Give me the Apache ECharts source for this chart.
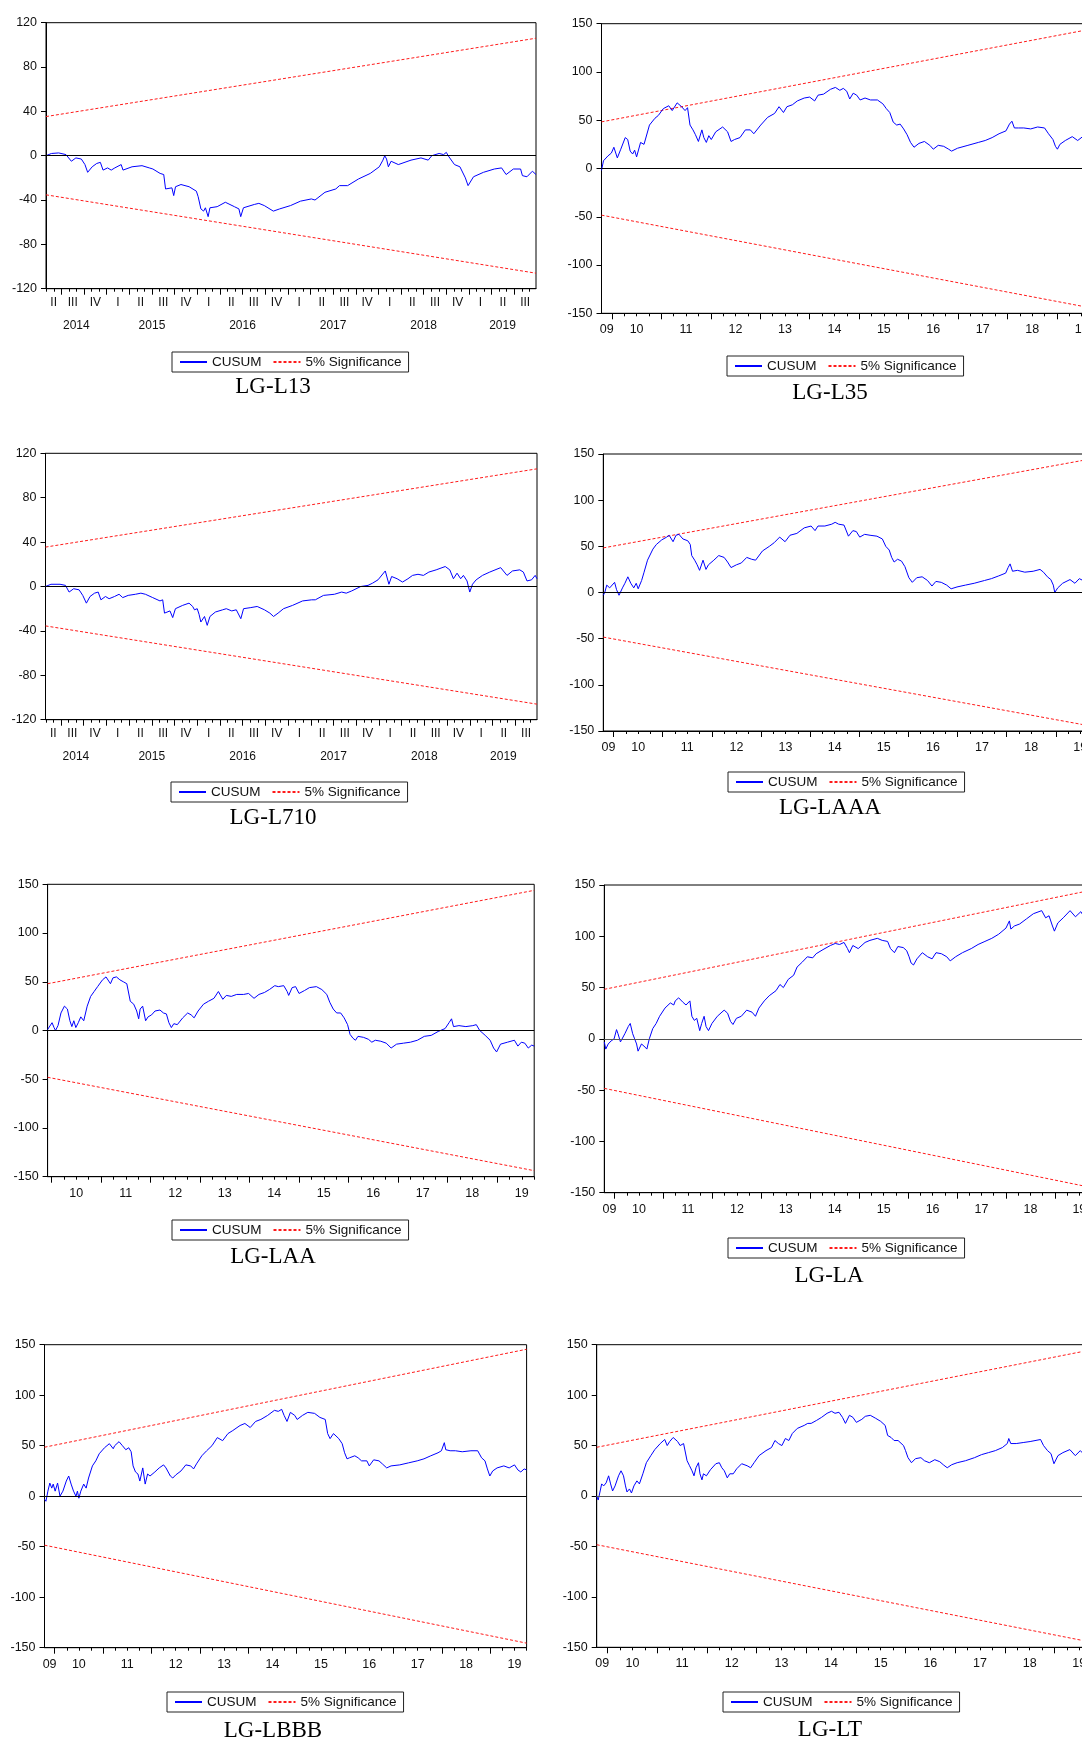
<!DOCTYPE html>
<html>
<head>
<meta charset="utf-8">
<script src="https://cdn.jsdelivr.net/npm/echarts@6/dist/echarts.min.js"></script>
<style>
html,body{margin:0;padding:0;background:#fff;overflow:hidden;width:1082px;height:1744px;position:relative}
.p{position:absolute}
</style>
</head>
<body>
<div id="c0" class="p"></div><div id="c1" class="p"></div>
<div id="c2" class="p"></div><div id="c3" class="p"></div>
<div id="c4" class="p"></div><div id="c5" class="p"></div>
<div id="c6" class="p"></div><div id="c7" class="p"></div>
<script>
// ---------------- DATA ----------------
// times are decimal years, values are CUSUM statistics
const L13_t = [2014.33,2014.39,2014.47,2014.55,2014.57,2014.61,2014.66,2014.72,2014.76,2014.79,2014.84,2014.89,2014.93,2014.96,2015.01,2015.05,2015.09,2015.16,2015.18,2015.28,2015.39,2015.47,2015.51,2015.59,2015.63,2015.65,2015.72,2015.74,2015.76,2015.82,2015.91,2015.99,2016.01,2016.04,2016.07,2016.09,2016.12,2016.14,2016.22,2016.31,2016.41,2016.46,2016.48,2016.51,2016.63,2016.68,2016.74,2016.84,2016.91,2017.03,2017.14,2017.26,2017.30,2017.41,2017.53,2017.57,2017.66,2017.78,2017.91,2018.01,2018.05,2018.07,2018.09,2018.11,2018.14,2018.22,2018.36,2018.47,2018.55,2018.59,2018.67,2018.72,2018.75,2018.77,2018.84,2018.90,2018.96,2018.99,2019.05,2019.16,2019.28,2019.36,2019.41,2019.49,2019.57,2019.59,2019.64,2019.70,2019.74];
const L13_v = [0,2,2.5,1,0,-5,-2,-3,-8,-15,-10,-7,-6,-13,-11,-13,-11,-8,-13,-10,-9,-11,-12,-16,-17,-30,-29,-36,-28,-26,-28,-32,-37,-48,-50,-47,-55,-47,-46,-42,-46,-48,-55,-47,-44,-43,-45,-50,-48,-45,-41,-39,-40,-33,-30,-27,-27,-21,-16,-10,-4,0,-3,-10,-5,-8,-4,-2,-4,0,2,1,3,0,-8,-10,-20,-27,-19,-15,-12,-11,-17,-12,-12,-18,-19,-14,-17];
const L13_sig = [35.3, 106];

const L35_t = [2009.79,2009.83,2009.92,2009.99,2010.04,2010.11,2010.18,2010.27,2010.32,2010.37,2010.42,2010.46,2010.50,2010.58,2010.65,2010.76,2010.87,2010.94,2011.04,2011.15,2011.22,2011.32,2011.41,2011.48,2011.53,2011.58,2011.64,2011.69,2011.75,2011.82,2011.86,2011.91,2011.96,2012.01,2012.10,2012.24,2012.34,2012.41,2012.48,2012.59,2012.70,2012.80,2012.87,2013.01,2013.15,2013.29,2013.38,2013.47,2013.54,2013.65,2013.75,2013.89,2014.00,2014.10,2014.17,2014.28,2014.42,2014.52,2014.61,2014.68,2014.75,2014.81,2014.88,2014.95,2015.02,2015.12,2015.23,2015.37,2015.48,2015.55,2015.62,2015.69,2015.76,2015.83,2015.90,2015.97,2016.04,2016.11,2016.21,2016.32,2016.43,2016.50,2016.60,2016.71,2016.81,2016.87,2016.99,2017.20,2017.41,2017.55,2017.69,2017.83,2017.97,2018.04,2018.09,2018.14,2018.22,2018.33,2018.47,2018.61,2018.75,2018.83,2018.92,2018.97,2019.01,2019.06,2019.17,2019.31,2019.42,2019.52,2019.58,2019.75];
const L35_v = [-2,8,13,16,22,11,20,32,30,18,15,19,12,27,25,45,52,55,62,65,60,68,64,60,63,45,40,35,28,40,32,27,34,30,38,43,38,28,30,32,40,40,36,45,53,57,64,58,64,66,70,73,74,70,76,77,82,84,81,83,80,72,78,76,71,73,71,71,67,62,58,48,45,46,41,35,27,22,26,28,24,20,24,23,20,18,21,24,27,29,32,36,39,46,49,42,42,42,41,43,42,36,30,23,20,25,29,33,29,33,32,33];
const L35_sig = [48.3, 145];

const L710_t = [2014.33,2014.39,2014.49,2014.55,2014.59,2014.64,2014.70,2014.74,2014.78,2014.82,2014.87,2014.91,2014.93,2014.94,2014.99,2015.03,2015.09,2015.14,2015.18,2015.24,2015.32,2015.38,2015.43,2015.51,2015.59,2015.62,2015.64,2015.70,2015.73,2015.76,2015.84,2015.91,2015.95,2015.97,2016.00,2016.02,2016.04,2016.08,2016.11,2016.14,2016.20,2016.28,2016.32,2016.38,2016.43,2016.48,2016.51,2016.59,2016.66,2016.74,2016.80,2016.84,2016.89,2016.95,2017.05,2017.16,2017.26,2017.30,2017.39,2017.51,2017.59,2017.64,2017.70,2017.80,2017.88,2017.93,2017.99,2018.07,2018.11,2018.14,2018.20,2018.26,2018.32,2018.37,2018.43,2018.49,2018.55,2018.63,2018.73,2018.78,2018.82,2018.86,2018.90,2018.93,2018.97,2019.00,2019.03,2019.07,2019.14,2019.22,2019.34,2019.36,2019.41,2019.47,2019.55,2019.59,2019.63,2019.68,2019.72,2019.74];
const L710_v = [0,2,2,1,-5,-2,-3,-8,-15,-9,-6,-5,-6,-12,-9,-11,-9,-7,-10,-8,-7,-6,-7,-10,-13,-12,-24,-22,-28,-20,-17,-15,-18,-21,-20,-25,-32,-27,-35,-27,-23,-21,-20,-22,-21,-29,-20,-19,-18,-21,-24,-27,-24,-20,-17,-13,-12,-12,-8,-7,-5,-6,-4,0,1,3,6,14,2,9,7,4,7,10,11,10,13,15,18,15,7,12,7,10,5,-5,2,6,10,13,17,16,10,14,15,13,5,6,10,7];
const L710_sig = [35.5, 106];

const LAAA_t = [2009.79,2009.82,2009.86,2009.92,2009.96,2010.02,2010.06,2010.11,2010.18,2010.23,2010.29,2010.35,2010.41,2010.46,2010.50,2010.57,2010.62,2010.69,2010.80,2010.87,2010.98,2011.08,2011.13,2011.21,2011.27,2011.33,2011.41,2011.51,2011.56,2011.59,2011.65,2011.70,2011.75,2011.82,2011.88,2011.93,2012.04,2012.14,2012.25,2012.32,2012.39,2012.50,2012.60,2012.71,2012.81,2012.89,2013.03,2013.17,2013.27,2013.38,2013.49,2013.59,2013.73,2013.88,2014.02,2014.10,2014.16,2014.30,2014.44,2014.51,2014.58,2014.69,2014.78,2014.87,2014.94,2015.01,2015.11,2015.22,2015.36,2015.47,2015.54,2015.61,2015.66,2015.71,2015.78,2015.86,2015.93,2016.01,2016.08,2016.17,2016.28,2016.39,2016.48,2016.56,2016.67,2016.78,2016.87,2016.99,2017.16,2017.34,2017.55,2017.69,2017.84,2017.98,2018.03,2018.07,2018.12,2018.22,2018.37,2018.54,2018.68,2018.75,2018.83,2018.90,2018.95,2018.98,2019.04,2019.14,2019.29,2019.39,2019.48,2019.59,2019.75];
const LAAA_v = [-3,0,8,5,6,11,3,-3,5,10,17,10,5,10,4,13,22,35,47,52,57,60,62,55,62,63,58,56,52,40,35,30,24,35,25,30,35,40,38,33,27,30,32,38,36,35,45,50,54,60,55,62,64,70,72,67,72,72,74,76,74,73,61,67,66,60,63,62,61,58,50,46,38,33,36,34,28,16,11,16,17,13,7,12,11,8,4,6,8,10,13,15,18,21,27,31,23,24,22,23,25,22,17,14,8,0,5,10,14,10,15,12,12];
const LAAA_sig = [48.3, 145];

const LAA_t = [2009.92,2009.96,2010.01,2010.05,2010.08,2010.13,2010.19,2010.26,2010.32,2010.37,2010.41,2010.45,2010.49,2010.54,2010.59,2010.65,2010.72,2010.79,2010.86,2010.93,2011.03,2011.10,2011.19,2011.24,2011.31,2011.38,2011.45,2011.52,2011.56,2011.59,2011.66,2011.72,2011.76,2011.79,2011.84,2011.90,2011.95,2012.02,2012.09,2012.19,2012.26,2012.32,2012.37,2012.42,2012.47,2012.54,2012.65,2012.75,2012.82,2012.88,2012.96,2013.07,2013.17,2013.28,2013.37,2013.46,2013.53,2013.63,2013.74,2013.88,2013.98,2014.09,2014.19,2014.30,2014.40,2014.51,2014.58,2014.69,2014.76,2014.79,2014.86,2014.93,2015.00,2015.11,2015.21,2015.35,2015.46,2015.56,2015.62,2015.69,2015.76,2015.84,2015.91,2015.98,2016.03,2016.09,2016.14,2016.19,2016.30,2016.40,2016.47,2016.54,2016.65,2016.76,2016.86,2016.97,2017.11,2017.25,2017.39,2017.53,2017.67,2017.81,2017.95,2018.03,2018.08,2018.12,2018.23,2018.37,2018.51,2018.58,2018.65,2018.76,2018.86,2018.93,2018.99,2019.07,2019.21,2019.35,2019.42,2019.49,2019.56,2019.63,2019.70,2019.75];
const LAA_v = [1,2,8,3,0,5,18,25,22,10,4,10,3,8,14,10,25,35,40,45,52,55,48,54,55,52,50,48,47,30,27,20,12,22,25,10,14,16,20,21,18,17,8,3,7,6,13,18,16,13,20,27,30,33,40,32,36,35,37,37,38,33,37,39,42,46,45,46,40,36,44,45,38,41,44,45,42,37,29,22,18,18,13,6,-4,-8,-10,-6,-7,-9,-12,-10,-11,-13,-18,-14,-13,-12,-10,-6,-5,-1,2,8,12,4,5,4,5,6,0,-5,-10,-18,-22,-14,-12,-10,-16,-12,-13,-18,-15,-16];
const LAA_sig = [48, 143.8];

const LA_t = [2009.79,2009.82,2009.87,2009.93,2009.99,2010.04,2010.07,2010.12,2010.16,2010.21,2010.28,2010.32,2010.37,2010.41,2010.45,2010.48,2010.55,2010.60,2010.66,2010.71,2010.78,2010.85,2010.92,2011.03,2011.14,2011.21,2011.24,2011.31,2011.39,2011.46,2011.54,2011.58,2011.63,2011.68,2011.74,2011.78,2011.83,2011.87,2011.92,2011.99,2012.10,2012.24,2012.31,2012.37,2012.42,2012.49,2012.59,2012.70,2012.81,2012.88,2012.95,2013.06,2013.16,2013.30,2013.38,2013.45,2013.55,2013.66,2013.73,2013.84,2013.94,2014.05,2014.12,2014.26,2014.41,2014.51,2014.60,2014.69,2014.76,2014.80,2014.87,2014.98,2015.12,2015.22,2015.37,2015.47,2015.58,2015.64,2015.72,2015.79,2015.90,2015.97,2016.02,2016.06,2016.11,2016.18,2016.29,2016.40,2016.49,2016.57,2016.68,2016.79,2016.86,2016.97,2017.11,2017.29,2017.43,2017.57,2017.71,2017.85,2018.00,2018.07,2018.10,2018.17,2018.28,2018.42,2018.56,2018.73,2018.81,2018.88,2018.95,2018.99,2019.06,2019.17,2019.31,2019.42,2019.53,2019.62,2019.75];
const LA_v = [-3,-10,-5,-2,0,9,5,-3,-4,5,12,15,5,0,-5,-12,-5,-7,-10,0,10,15,22,30,35,33,37,40,36,33,37,22,18,20,8,15,22,12,8,15,22,28,25,17,14,20,22,28,26,22,30,37,42,47,53,50,58,62,70,75,80,79,83,87,91,93,92,94,88,84,91,88,94,96,98,96,95,88,84,90,89,86,80,74,72,78,84,80,78,84,83,80,76,80,84,88,92,95,98,102,108,115,107,110,112,117,122,125,118,120,110,105,113,118,125,119,124,117,120];
const LA_sig = [48.3, 145];

const LBBB_t = [2009.79,2009.82,2009.86,2009.90,2009.94,2009.97,2010.01,2010.06,2010.11,2010.17,2010.24,2010.29,2010.34,2010.39,2010.44,2010.47,2010.50,2010.54,2010.60,2010.65,2010.70,2010.78,2010.85,2010.92,2011.03,2011.13,2011.21,2011.24,2011.33,2011.40,2011.47,2011.53,2011.58,2011.62,2011.67,2011.72,2011.76,2011.82,2011.87,2011.92,2011.97,2012.07,2012.16,2012.25,2012.30,2012.39,2012.44,2012.50,2012.61,2012.71,2012.81,2012.87,2012.93,2013.04,2013.14,2013.25,2013.36,2013.47,2013.58,2013.68,2013.83,2013.93,2014.04,2014.15,2014.26,2014.40,2014.54,2014.62,2014.69,2014.74,2014.80,2014.87,2014.96,2015.01,2015.12,2015.23,2015.37,2015.48,2015.59,2015.64,2015.69,2015.76,2015.87,2015.94,2015.99,2016.04,2016.09,2016.20,2016.27,2016.34,2016.45,2016.50,2016.59,2016.70,2016.77,2016.86,2016.95,2017.13,2017.31,2017.49,2017.63,2017.77,2017.92,2017.99,2018.05,2018.08,2018.17,2018.28,2018.42,2018.60,2018.74,2018.82,2018.89,2018.94,2018.99,2019.05,2019.14,2019.28,2019.39,2019.50,2019.57,2019.63,2019.70,2019.75];
const LBBB_v = [-3,-5,5,13,8,12,5,13,0,5,15,20,12,5,0,5,-2,5,12,8,18,30,35,42,48,52,47,50,54,50,46,48,44,30,24,22,15,28,12,22,20,24,28,31,28,20,18,21,25,31,30,27,32,40,45,50,58,55,62,65,70,72,68,74,76,80,85,84,86,80,74,83,80,76,80,83,82,78,76,62,57,62,57,52,43,37,38,40,38,35,35,30,36,35,32,28,30,31,33,35,37,40,43,45,53,46,45,45,44,45,45,38,35,27,20,25,28,30,28,31,26,24,27,26];
const LBBB_sig = [48.5, 145.5];

const LT_t = [2009.78,2009.81,2009.85,2009.88,2009.92,2009.97,2010.02,2010.06,2010.10,2010.15,2010.22,2010.27,2010.32,2010.36,2010.39,2010.44,2010.48,2010.53,2010.59,2010.64,2010.71,2010.78,2010.87,2010.95,2011.06,2011.15,2011.20,2011.25,2011.32,2011.41,2011.46,2011.53,2011.57,2011.60,2011.65,2011.70,2011.74,2011.78,2011.83,2011.86,2011.90,2011.93,2011.99,2012.07,2012.18,2012.25,2012.30,2012.35,2012.41,2012.46,2012.53,2012.60,2012.70,2012.81,2012.88,2012.95,2013.05,2013.19,2013.30,2013.37,2013.44,2013.51,2013.58,2013.65,2013.72,2013.82,2013.96,2014.03,2014.10,2014.21,2014.31,2014.42,2014.51,2014.58,2014.66,2014.73,2014.79,2014.87,2014.94,2015.01,2015.12,2015.19,2015.29,2015.40,2015.50,2015.59,2015.64,2015.71,2015.77,2015.85,2015.96,2016.00,2016.05,2016.12,2016.20,2016.31,2016.38,2016.48,2016.59,2016.69,2016.76,2016.84,2016.93,2017.04,2017.21,2017.39,2017.53,2017.67,2017.81,2017.95,2018.05,2018.08,2018.12,2018.23,2018.37,2018.51,2018.72,2018.78,2018.86,2018.93,2018.99,2019.07,2019.17,2019.31,2019.42,2019.52,2019.62,2019.75];
const LT_v = [0,-4,5,12,10,13,20,12,5,10,20,25,20,10,4,7,3,10,15,12,22,33,40,46,52,56,50,54,58,54,50,52,52,35,30,25,20,28,33,22,16,22,20,26,32,33,28,25,18,22,22,27,32,30,28,33,40,45,48,55,52,50,57,55,62,67,70,72,72,75,78,82,84,82,83,78,72,80,78,73,76,79,80,77,74,70,60,58,55,55,50,45,38,33,37,38,35,33,36,34,31,28,31,33,35,38,41,43,45,48,52,57,52,52,53,54,56,50,45,42,32,40,43,46,40,45,40,42];
const LT_sig = [48.3, 145];

const Y_TICKS_120 = [-120, 120, 40];   // min, max, step
const Y_TICKS_150 = [-150, 150, 50];
const QUARTER_NAMES = ['I','II','III','IV'];
const SERIES_NAMES = ['CUSUM', '5% Significance'];

// ---------------- LAYOUT (page pixels) ----------------
const PANELS = [
  {el:'c0', title:'LG-L13',  t:L13_t,  v:L13_v,  sig:L13_sig,  y:Y_TICKS_120, kind:'q', div:[0,0,545,430],     grid:[46,22.7,536,288.7],    legend:[172,352], tpos:[273,387], zero:'#000'},
  {el:'c1', title:'LG-L35',  t:L35_t,  v:L35_v,  sig:L35_sig,  y:Y_TICKS_150, kind:'y', div:[545,0,560,430],   grid:[601.5,23.7,1094,313.3], legend:[727,356], tpos:[830,393], zero:'#000'},
  {el:'c2', title:'LG-L710', t:L710_t, v:L710_v, sig:L710_sig, y:Y_TICKS_120, kind:'q', div:[0,430,545,430],   grid:[45.5,453.3,537,719.7],  legend:[171,782], tpos:[273,818], zero:'#000'},
  {el:'c3', title:'LG-LAAA', t:LAAA_t, v:LAAA_v, sig:LAAA_sig, y:Y_TICKS_150, kind:'y', div:[545,430,560,430], grid:[603.3,454,1092.6,731],  legend:[728,772], tpos:[830,808], zero:'#000'},
  {el:'c4', title:'LG-LAA',  t:LAA_t,  v:LAA_v,  sig:LAA_sig,  y:Y_TICKS_150, kind:'y', div:[0,860,545,460],   grid:[47.6,884.3,534.2,1176.7], legend:[172,1220], tpos:[273,1257], zero:'#000'},
  {el:'c5', title:'LG-LA',   t:LA_t,   v:LA_v,   sig:LA_sig,   y:Y_TICKS_150, kind:'y', div:[545,860,560,460], grid:[604.3,885,1091.6,1192.7], legend:[728,1238], tpos:[829,1276], zero:'#555'},
  {el:'c6', title:'LG-LBBB', t:LBBB_t, v:LBBB_v, sig:LBBB_sig, y:Y_TICKS_150, kind:'y', div:[0,1320,545,424],  grid:[44.5,1344.7,526.6,1647.7], legend:[167,1692], tpos:[273,1731], zero:'#000'},
  {el:'c7', title:'LG-LT',   t:LT_t,   v:LT_v,   sig:LT_sig,   y:Y_TICKS_150, kind:'y', div:[545,1320,560,424], grid:[596.7,1344.7,1091.7,1647.3], legend:[723,1692], tpos:[830,1730], zero:'#555'}
];

const SANS = '"Liberation Sans", Arial, Helvetica, sans-serif';
const SERIF = '"Liberation Serif", "Times New Roman", serif';

function lookupFormatter(pos, txt) {
  return function (val) {
    for (let i = 0; i < pos.length; i++) if (Math.abs(pos[i] - val) < 1e-4) return txt[i];
    return '';
  };
}

function baseX(t0, t1) {
  return {type:'value', min:t0, max:t1, gridIndex:0, position:'bottom', offset:0,
    splitLine:{show:false}, axisLine:{show:false, onZero:false},
    axisTick:{show:false}, axisLabel:{show:false}};
}

// EViews-like quarterly axis (months minor ticks, quarter ticks, quarter & year labels)
function quarterAxes(t0, t1) {
  const months = [], quarters = [], qPos = [], qTxt = [], yPos = [], yTxt = [];
  for (let y = Math.floor(t0); y <= Math.ceil(t1); y++) {
    for (let m = 0; m < 12; m++) {
      const v = y + m / 12;
      if (v > t0 + 1e-6 && v < t1 - 1e-6) (m % 3 === 0 ? quarters : months).push(v);
    }
    for (let q = 0; q < 4; q++) {
      const a = Math.max(y + q / 4, t0), b = Math.min(y + (q + 1) / 4, t1);
      if (b - a > 0.05) { qPos.push((a + b) / 2); qTxt.push(QUARTER_NAMES[q]); }
    }
    const a = Math.max(y, t0), b = Math.min(y + 1, t1);
    if (b - a > 0.1) { yPos.push((a + b) / 2); yTxt.push(String(y)); }
  }
  const lab = {fontFamily:SANS, fontSize:12, color:'#111'};
  return [
    Object.assign(baseX(t0, t1), {
      axisLine:{show:true, onZero:false, lineStyle:{color:'#000', width:1}},
      axisTick:{show:true, length:3, customValues:months, lineStyle:{color:'#000', width:1}},
      axisLabel:Object.assign({show:true, customValues:qPos, formatter:lookupFormatter(qPos, qTxt), margin:8}, lab)
    }),
    Object.assign(baseX(t0, t1), {
      axisTick:{show:true, length:6, customValues:quarters, lineStyle:{color:'#000', width:1}}
    }),
    Object.assign(baseX(t0, t1), {
      axisLabel:Object.assign({show:true, customValues:yPos, formatter:lookupFormatter(yPos, yTxt), margin:31}, lab)
    })
  ];
}

// yearly axis (quarter minor ticks, year ticks, 2-digit year labels)
function yearAxes(t0, t1) {
  const quarters = [], years = [], yPos = [], yTxt = [];
  for (let y = Math.floor(t0); y <= Math.ceil(t1); y++) {
    for (let q = 0; q < 4; q++) {
      const v = y + q / 4;
      if (v > t0 + 1e-6 && v <= t1 + 1e-6) (q === 0 ? years : quarters).push(v);
    }
    const a = Math.max(y, t0), b = Math.min(y + 1, t1);
    if (b - a > 0.15) {
      yPos.push(b - a > 0.7 ? y + 0.5 : (a + b) / 2);
      yTxt.push(String(y).slice(2));
    }
  }
  const lab = {fontFamily:SANS, fontSize:12.5, color:'#111'};
  return [
    Object.assign(baseX(t0, t1), {
      axisLine:{show:true, onZero:false, lineStyle:{color:'#000', width:1}},
      axisTick:{show:true, length:3, customValues:quarters, lineStyle:{color:'#000', width:1}},
      axisLabel:Object.assign({show:true, customValues:yPos, formatter:lookupFormatter(yPos, yTxt), margin:10}, lab)
    }),
    Object.assign(baseX(t0, t1), {
      axisTick:{show:true, length:6, customValues:years, lineStyle:{color:'#000', width:1}}
    })
  ];
}

function build(p) {
  const el = document.getElementById(p.el);
  const [dx, dy, dw, dh] = p.div;
  el.style.left = dx + 'px'; el.style.top = dy + 'px';
  el.style.width = dw + 'px'; el.style.height = dh + 'px';
  const chart = echarts.init(el, null, {renderer:'canvas', width:dw, height:dh});
  const t0 = p.t[0], t1 = p.t[p.t.length - 1];
  const cusum = p.t.map((t, i) => [t, p.v[i]]);
  const upper = [[t0, p.sig[0]], [t1, p.sig[1]]];
  const lower = [[t0, -p.sig[0]], [t1, -p.sig[1]]];
  const xAxes = p.kind === 'q' ? quarterAxes(t0, t1) : yearAxes(t0, t1);
  const sigStyle = {color:'#ff1a1a', width:1, type:[3, 2]};
  chart.setOption({
    animation:false,
    grid:{left:p.grid[0] - dx, top:p.grid[1] - dy, width:p.grid[2] - p.grid[0], height:p.grid[3] - p.grid[1],
      show:true, borderColor:'#000', borderWidth:1, backgroundColor:'transparent',
      containLabel:false, outerBoundsMode:'none'},
    xAxis:xAxes,
    yAxis:{type:'value', min:p.y[0], max:p.y[1], interval:p.y[2],
      splitLine:{show:false},
      axisLine:{show:true, onZero:false, lineStyle:{color:'#000', width:1}},
      axisTick:{show:true, inside:false, length:5, lineStyle:{color:'#000', width:1}},
      axisLabel:{margin:9, fontFamily:SANS, fontSize:12.5, color:'#111'}},
    legend:{left:p.legend[0] - dx, top:p.legend[1] - dy, orient:'horizontal',
      data:SERIES_NAMES, selectedMode:false,
      padding:[3, 7, 3, 7], itemGap:11, itemWidth:27, itemHeight:10,
      borderColor:'#222', borderWidth:1, backgroundColor:'#fff',
      itemStyle:{opacity:0, borderWidth:0},
      textStyle:{fontFamily:SANS, fontSize:13.5, color:'#111'}},
    graphic:[{type:'text', x:p.tpos[0] - dx, y:p.tpos[1] - dy,
      style:{text:p.title, fontFamily:SERIF, fontSize:23, fill:'#000',
        align:'center', verticalAlign:'middle', textAlign:'center', textVerticalAlign:'middle'}}],
    series:[
      {name:SERIES_NAMES[0], type:'line', data:cusum, symbol:'none', showSymbol:false, silent:true,
        lineStyle:{color:'#0000ff', width:1}, itemStyle:{color:'#0000ff'}, z:3,
        markLine:{silent:true, symbol:['none','none'], label:{show:false},
          lineStyle:{color:p.zero, width:1, type:'solid'}, data:[{yAxis:0}]}},
      {name:SERIES_NAMES[1], type:'line', data:upper, symbol:'none', showSymbol:false, silent:true,
        lineStyle:sigStyle, itemStyle:{color:'#ff1a1a'}, z:2},
      {name:SERIES_NAMES[1], type:'line', data:lower, symbol:'none', showSymbol:false, silent:true,
        lineStyle:sigStyle, itemStyle:{color:'#ff1a1a'}, z:2}
    ]
  });
}

PANELS.forEach(build);
</script>
</body>
</html>
